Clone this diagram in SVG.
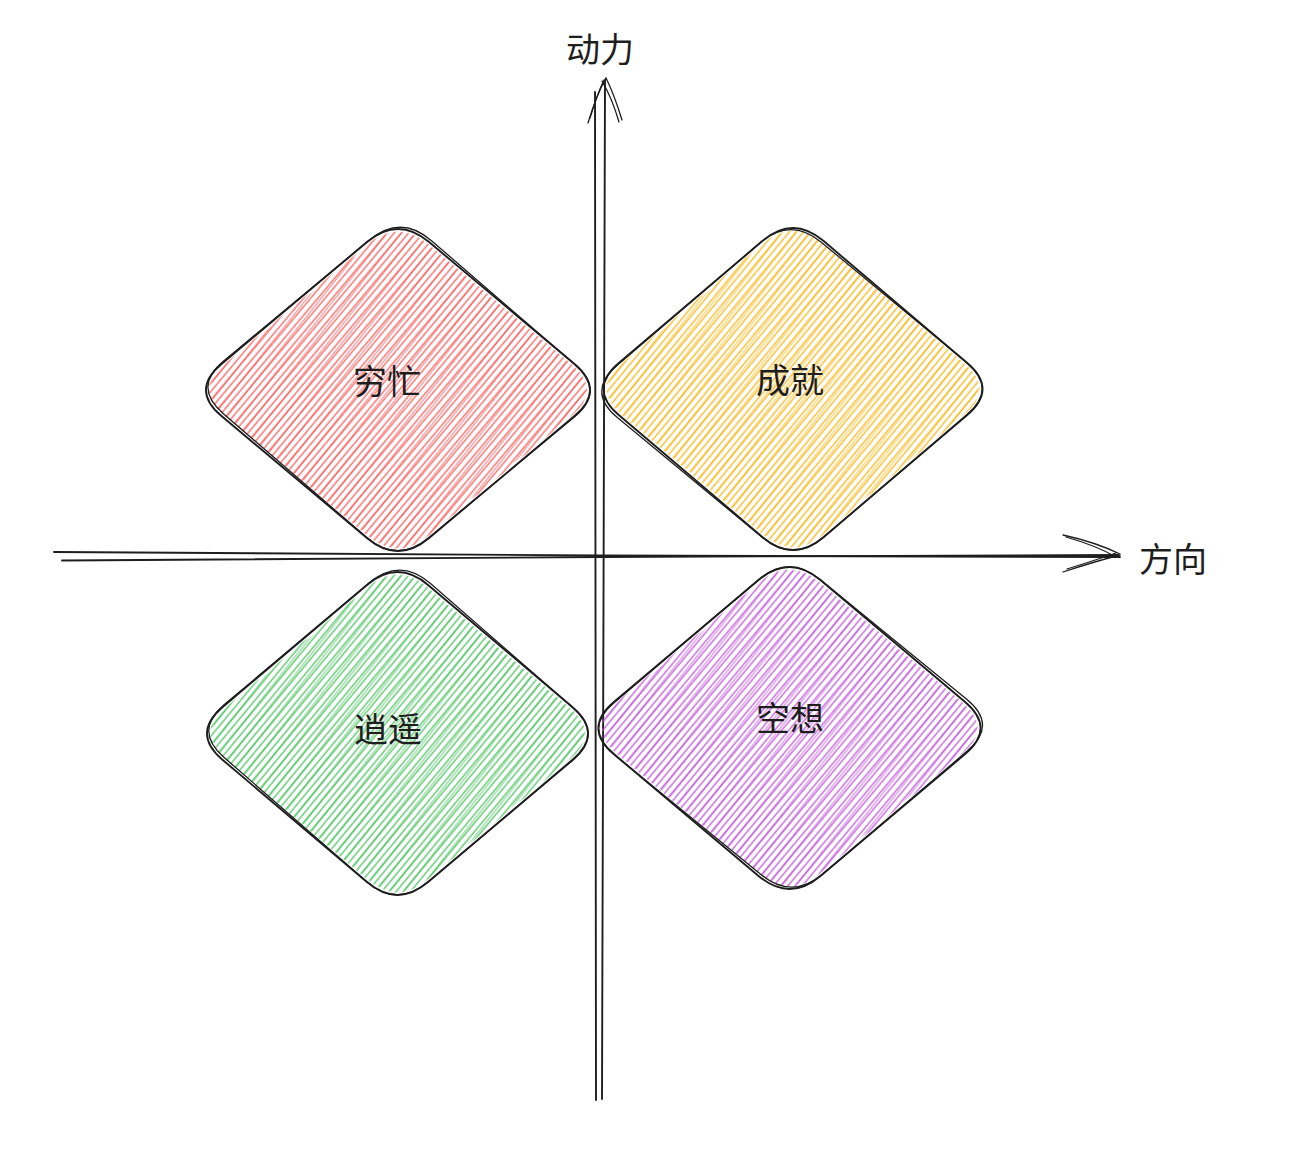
<svg xmlns="http://www.w3.org/2000/svg" width="1316" height="1156" viewBox="0 0 1316 1156">
<style>
.ink{fill:none;stroke:#1e1e1e;stroke-width:1.9;stroke-linecap:round;stroke-linejoin:round}
.ink2{fill:none;stroke:#1e1e1e;stroke-width:1.3;stroke-linecap:round;stroke-linejoin:round}
.lbl{font-family:"Noto Sans CJK SC","Noto Sans",sans-serif;font-size:34px;fill:#1e1e1e;text-anchor:middle}
</style>
<defs>
<path id="dia" d="M-31.1,-147.9 Q0,-174 31.1,-147.9 L176.5,-26.1 Q207.6,0 176.5,26.1 L31.1,147.9 Q0,174 -31.1,147.9 L-176.5,26.1 Q-207.6,0 -176.5,-26.1 Z"/>
<pattern id="hR" patternUnits="userSpaceOnUse" width="5.6" height="20" patternTransform="rotate(40)"><line x1="1" y1="0" x2="1" y2="20" stroke="#fa5252" stroke-width="1.2"/></pattern>
<pattern id="hR2" patternUnits="userSpaceOnUse" width="11.3" height="20" patternTransform="rotate(38.5)"><line x1="4" y1="0" x2="4" y2="20" stroke="#fa5252" stroke-width="0.8"/></pattern>
<pattern id="hY" patternUnits="userSpaceOnUse" width="5.6" height="20" patternTransform="rotate(40)"><line x1="1" y1="0" x2="1" y2="20" stroke="#fab005" stroke-width="1.2"/></pattern>
<pattern id="hY2" patternUnits="userSpaceOnUse" width="11.3" height="20" patternTransform="rotate(38.5)"><line x1="4" y1="0" x2="4" y2="20" stroke="#fab005" stroke-width="0.8"/></pattern>
<pattern id="hG" patternUnits="userSpaceOnUse" width="5.6" height="20" patternTransform="rotate(40)"><line x1="1" y1="0" x2="1" y2="20" stroke="#40c057" stroke-width="1.2"/></pattern>
<pattern id="hG2" patternUnits="userSpaceOnUse" width="11.3" height="20" patternTransform="rotate(38.5)"><line x1="4" y1="0" x2="4" y2="20" stroke="#40c057" stroke-width="0.8"/></pattern>
<pattern id="hP" patternUnits="userSpaceOnUse" width="5.6" height="20" patternTransform="rotate(40)"><line x1="1" y1="0" x2="1" y2="20" stroke="#be4bdb" stroke-width="1.2"/></pattern>
<pattern id="hP2" patternUnits="userSpaceOnUse" width="11.3" height="20" patternTransform="rotate(38.5)"><line x1="4" y1="0" x2="4" y2="20" stroke="#be4bdb" stroke-width="0.8"/></pattern>
</defs>
<rect width="1316" height="1156" fill="#ffffff"/>

<g id="connectors">
  <g id="axis-y">
    <path class="ink" d="M595,92 L595.5,600 L596,1100"/>
    <path class="ink" d="M605,80 L603.5,600 L602,1099"/>
    <path class="ink2" d="M588,123 Q596,96 606,78"/>
    <path class="ink2" d="M590,118 Q598,92 604,80"/>
    <path class="ink2" d="M622,120 Q614,94 606,78"/>
    <path class="ink2" d="M619,122 Q612,98 602,81"/>
  </g>
  <g id="axis-x">
    <path class="ink" d="M54,552 L600,555.5 L1120,557"/>
    <path class="ink" d="M62,560.5 L600,557 L1118,555"/>
    <path class="ink2" d="M1063,535 Q1095,542 1120,554"/>
    <path class="ink2" d="M1066,537 Q1097,546 1114,556"/>
    <path class="ink2" d="M1063,572 Q1093,562 1120,555"/>
    <path class="ink2" d="M1067,569 Q1096,560 1116,553"/>
  </g>
</g>

<g id="node-qiongmang">
  <use href="#dia" transform="translate(398,390) scale(0.985)" fill="url(#hR)"/>
  <use href="#dia" transform="translate(398,390) scale(0.975)" fill="url(#hR2)"/>
  <use href="#dia" class="ink" transform="translate(398,390)"/>
  <use href="#dia" class="ink2" transform="translate(399,389) rotate(0.6) scale(0.995,1.005)"/>
  <text class="lbl" x="387" y="394">穷忙</text>
</g>

<g id="node-chengjiu">
  <g transform="translate(793,389) scale(0.987,1)">
    <use href="#dia" transform="scale(0.985)" fill="url(#hY)"/>
    <use href="#dia" transform="scale(0.975)" fill="url(#hY2)"/>
    <use href="#dia" class="ink"/>
    <use href="#dia" class="ink2" transform="translate(-1,1) rotate(-0.5) scale(1.004,0.996)"/>
  </g>
  <text class="lbl" x="790" y="393">成就</text>
</g>

<g id="node-xiaoyao">
  <g transform="translate(397.5,733.5) scale(0.992,1.003)">
    <use href="#dia" transform="scale(0.985)" fill="url(#hG)"/>
    <use href="#dia" transform="scale(0.975)" fill="url(#hG2)"/>
    <use href="#dia" class="ink"/>
    <use href="#dia" class="ink2" transform="translate(1,-1) rotate(0.5) scale(0.996,1.006)"/>
  </g>
  <text class="lbl" x="388" y="742">逍遥</text>
</g>

<g id="node-kongxiang">
  <g transform="translate(789.5,728) scale(0.995,1)">
    <use href="#dia" transform="scale(0.985)" fill="url(#hP)"/>
    <use href="#dia" transform="scale(0.975)" fill="url(#hP2)"/>
    <use href="#dia" class="ink"/>
    <use href="#dia" class="ink2" transform="translate(1,-1) rotate(-0.6) scale(1.005,0.995)"/>
  </g>
  <text class="lbl" x="790" y="731">空想</text>
</g>

<g id="label-dongli"><text class="lbl" x="600" y="62">动力</text></g>
<g id="label-fangxiang"><text class="lbl" x="1173" y="572">方向</text></g>
</svg>
